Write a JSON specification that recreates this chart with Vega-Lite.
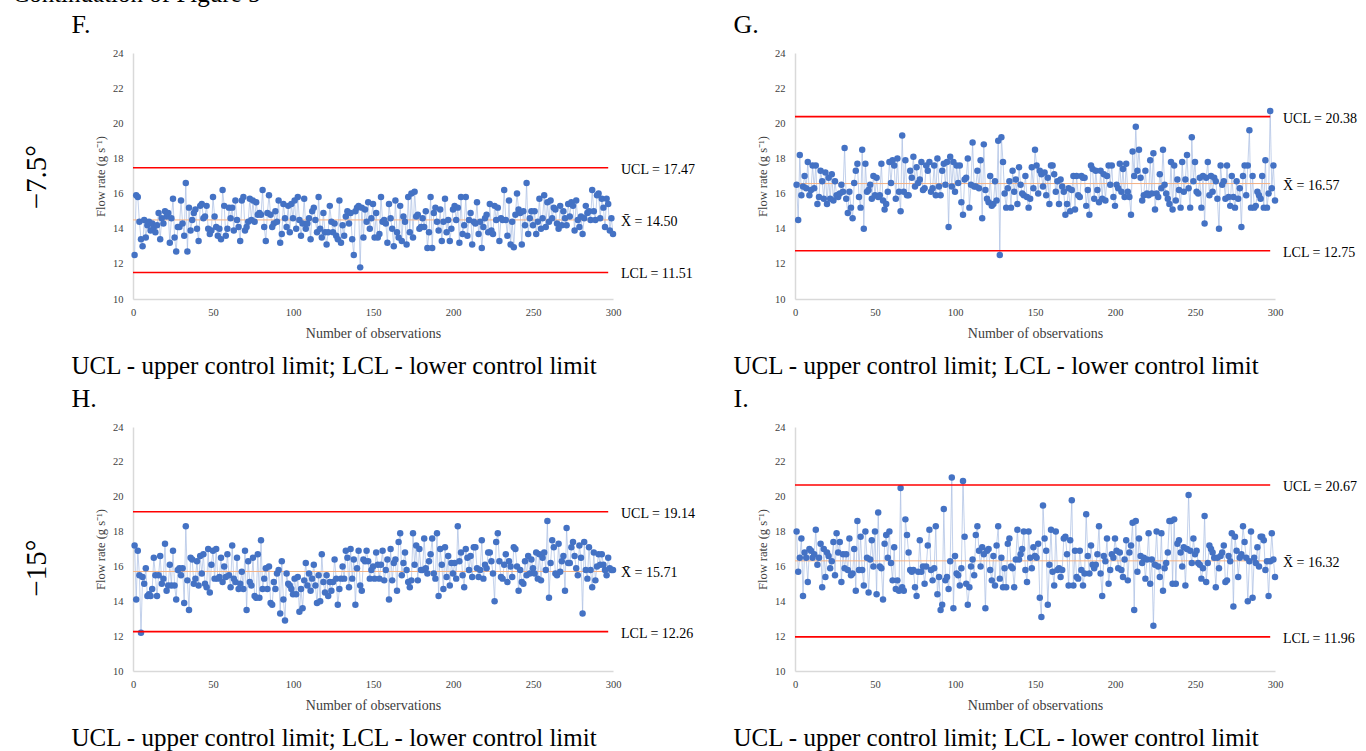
{
"$schema": "https://vega.github.io/schema/vega-lite/v6.json",
"background": "white",
"padding": {"left": 12, "top": -18, "right": 0, "bottom": 0},
"title": {"text": "Continuation of Figure 5", "anchor": "start", "fontSize": 25, "offset": 5, "dx": -10, "font": "Liberation Serif"},
"config": {
 "font": "Liberation Serif",
 "view": {"stroke": null},
 "axis": {"grid": false, "ticks": false, "tickSize": 0, "domainColor": "#d9d9d9", "domainWidth": 1.5, "labelFont": "Liberation Serif", "labelFontSize": 10.5, "labelColor": "#404040", "titleFont": "Liberation Serif", "titleFontWeight": "normal", "titleColor": "#404040", "labelFlush": false},
 "title": {"font": "Liberation Serif", "fontWeight": "normal", "color": "#000000"},
 "text": {"font": "Liberation Serif"}
},
"datasets": {
"F": [{"i":1,"v":12.5},{"i":2,"v":15.9},{"i":3,"v":15.8},{"i":4,"v":14.4},{"i":5,"v":13.4},{"i":6,"v":13.0},{"i":7,"v":14.5},{"i":8,"v":13.5},{"i":9,"v":14.2},{"i":10,"v":14.4},
{"i":11,"v":13.9},{"i":12,"v":14.3},{"i":13,"v":14.1},{"i":14,"v":13.8},{"i":15,"v":14.2},{"i":16,"v":14.9},{"i":17,"v":13.4},{"i":18,"v":14.6},{"i":19,"v":14.3},{"i":20,"v":15.0},
{"i":21,"v":14.7},{"i":22,"v":14.9},{"i":23,"v":13.2},{"i":24,"v":14.6},{"i":25,"v":15.7},{"i":26,"v":13.5},{"i":27,"v":12.7},{"i":28,"v":14.1},{"i":29,"v":14.1},{"i":30,"v":15.6},
{"i":31,"v":14.3},{"i":32,"v":13.6},{"i":33,"v":16.6},{"i":34,"v":12.7},{"i":35,"v":15.2},{"i":36,"v":13.9},{"i":37,"v":14.5},{"i":38,"v":14.9},{"i":39,"v":15.1},{"i":40,"v":14.0},
{"i":41,"v":13.3},{"i":42,"v":15.3},{"i":43,"v":15.4},{"i":44,"v":14.6},{"i":45,"v":14.7},{"i":46,"v":15.3},{"i":47,"v":14.0},{"i":48,"v":13.7},{"i":49,"v":13.9},{"i":50,"v":15.8},
{"i":51,"v":14.7},{"i":52,"v":14.1},{"i":53,"v":13.6},{"i":54,"v":14.0},{"i":55,"v":13.4},{"i":56,"v":16.2},{"i":57,"v":15.3},{"i":58,"v":13.6},{"i":59,"v":14.0},{"i":60,"v":15.2},
{"i":61,"v":14.6},{"i":62,"v":15.2},{"i":63,"v":13.9},{"i":64,"v":15.6},{"i":65,"v":14.5},{"i":66,"v":14.1},{"i":67,"v":13.3},{"i":68,"v":15.6},{"i":69,"v":15.8},{"i":70,"v":13.9},
{"i":71,"v":14.1},{"i":72,"v":14.4},{"i":73,"v":15.7},{"i":74,"v":14.5},{"i":75,"v":15.6},{"i":76,"v":14.4},{"i":77,"v":15.5},{"i":78,"v":14.8},{"i":79,"v":14.9},{"i":80,"v":14.8},
{"i":81,"v":16.2},{"i":82,"v":14.1},{"i":83,"v":13.3},{"i":84,"v":14.9},{"i":85,"v":15.9},{"i":86,"v":14.8},{"i":87,"v":14.1},{"i":88,"v":14.3},{"i":89,"v":15.0},{"i":90,"v":14.4},
{"i":91,"v":15.6},{"i":92,"v":13.2},{"i":93,"v":13.7},{"i":94,"v":15.4},{"i":95,"v":14.6},{"i":96,"v":14.1},{"i":97,"v":15.3},{"i":98,"v":13.8},{"i":99,"v":15.4},{"i":100,"v":14.6},
{"i":101,"v":15.6},{"i":102,"v":14.0},{"i":103,"v":15.8},{"i":104,"v":14.5},{"i":105,"v":13.6},{"i":106,"v":14.3},{"i":107,"v":15.7},{"i":108,"v":14.0},{"i":109,"v":14.3},{"i":110,"v":14.6},
{"i":111,"v":13.4},{"i":112,"v":15.0},{"i":113,"v":15.2},{"i":114,"v":14.5},{"i":115,"v":13.8},{"i":116,"v":15.8},{"i":117,"v":14.0},{"i":118,"v":13.5},{"i":119,"v":14.9},{"i":120,"v":13.8},
{"i":121,"v":13.1},{"i":122,"v":13.8},{"i":123,"v":15.3},{"i":124,"v":14.4},{"i":125,"v":13.8},{"i":126,"v":14.3},{"i":127,"v":13.6},{"i":128,"v":13.4},{"i":129,"v":15.6},{"i":130,"v":13.2},
{"i":131,"v":14.2},{"i":132,"v":13.6},{"i":133,"v":14.7},{"i":134,"v":15.0},{"i":135,"v":14.3},{"i":136,"v":14.9},{"i":137,"v":13.4},{"i":138,"v":12.5},{"i":139,"v":15.0},{"i":140,"v":15.2},
{"i":141,"v":15.3},{"i":142,"v":11.8},{"i":143,"v":15.2},{"i":144,"v":13.5},{"i":145,"v":15.1},{"i":146,"v":14.4},{"i":147,"v":15.5},{"i":148,"v":14.0},{"i":149,"v":14.6},{"i":150,"v":15.4},
{"i":151,"v":13.5},{"i":152,"v":14.9},{"i":153,"v":13.5},{"i":154,"v":13.7},{"i":155,"v":15.8},{"i":156,"v":14.4},{"i":157,"v":14.5},{"i":158,"v":14.3},{"i":159,"v":13.2},{"i":160,"v":15.4},
{"i":161,"v":14.6},{"i":162,"v":14.0},{"i":163,"v":13.0},{"i":164,"v":15.6},{"i":165,"v":13.8},{"i":166,"v":13.5},{"i":167,"v":15.3},{"i":168,"v":13.3},{"i":169,"v":14.7},{"i":170,"v":14.4},
{"i":171,"v":13.1},{"i":172,"v":15.8},{"i":173,"v":13.8},{"i":174,"v":16.0},{"i":175,"v":13.5},{"i":176,"v":16.1},{"i":177,"v":14.7},{"i":178,"v":14.8},{"i":179,"v":14.0},{"i":180,"v":14.1},
{"i":181,"v":14.6},{"i":182,"v":14.1},{"i":183,"v":15.0},{"i":184,"v":12.9},{"i":185,"v":13.8},{"i":186,"v":15.8},{"i":187,"v":12.9},{"i":188,"v":14.9},{"i":189,"v":15.2},{"i":190,"v":14.4},
{"i":191,"v":13.9},{"i":192,"v":15.1},{"i":193,"v":13.3},{"i":194,"v":14.4},{"i":195,"v":15.7},{"i":196,"v":13.8},{"i":197,"v":14.5},{"i":198,"v":13.3},{"i":199,"v":14.0},{"i":200,"v":15.1},
{"i":201,"v":15.3},{"i":202,"v":14.5},{"i":203,"v":15.2},{"i":204,"v":13.2},{"i":205,"v":15.8},{"i":206,"v":13.7},{"i":207,"v":14.2},{"i":208,"v":15.8},{"i":209,"v":13.6},{"i":210,"v":14.5},
{"i":211,"v":14.9},{"i":212,"v":13.1},{"i":213,"v":14.4},{"i":214,"v":14.3},{"i":215,"v":15.5},{"i":216,"v":13.7},{"i":217,"v":14.4},{"i":218,"v":12.9},{"i":219,"v":14.1},{"i":220,"v":14.6},
{"i":221,"v":14.8},{"i":222,"v":13.8},{"i":223,"v":15.4},{"i":224,"v":13.9},{"i":225,"v":13.7},{"i":226,"v":15.3},{"i":227,"v":14.5},{"i":228,"v":15.2},{"i":229,"v":13.3},{"i":230,"v":14.6},
{"i":231,"v":14.5},{"i":232,"v":16.2},{"i":233,"v":14.5},{"i":234,"v":13.6},{"i":235,"v":15.6},{"i":236,"v":13.1},{"i":237,"v":14.4},{"i":238,"v":12.95},{"i":239,"v":14.8},{"i":240,"v":16.0},
{"i":241,"v":15.1},{"i":242,"v":14.9},{"i":243,"v":13.1},{"i":244,"v":15.0},{"i":245,"v":14.2},{"i":246,"v":16.6},{"i":247,"v":13.7},{"i":248,"v":14.6},{"i":249,"v":15.0},{"i":250,"v":14.2},
{"i":251,"v":15.0},{"i":252,"v":13.7},{"i":253,"v":14.4},{"i":254,"v":15.7},{"i":255,"v":14.0},{"i":256,"v":14.6},{"i":257,"v":15.9},{"i":258,"v":14.1},{"i":259,"v":15.5},{"i":260,"v":14.4},
{"i":261,"v":15.6},{"i":262,"v":14.6},{"i":263,"v":15.2},{"i":264,"v":15.1},{"i":265,"v":14.3},{"i":266,"v":14.0},{"i":267,"v":15.3},{"i":268,"v":14.2},{"i":269,"v":15.0},{"i":270,"v":14.6},
{"i":271,"v":14.2},{"i":272,"v":15.4},{"i":273,"v":14.7},{"i":274,"v":15.5},{"i":275,"v":15.3},{"i":276,"v":13.9},{"i":277,"v":15.6},{"i":278,"v":14.5},{"i":279,"v":14.1},{"i":280,"v":14.7},
{"i":281,"v":13.7},{"i":282,"v":14.6},{"i":283,"v":15.3},{"i":284,"v":14.9},{"i":285,"v":15.0},{"i":286,"v":14.5},{"i":287,"v":16.2},{"i":288,"v":15.0},{"i":289,"v":14.5},{"i":290,"v":15.9},
{"i":291,"v":16.0},{"i":292,"v":14.6},{"i":293,"v":15.7},{"i":294,"v":15.2},{"i":295,"v":14.1},{"i":296,"v":15.7},{"i":297,"v":15.4},{"i":298,"v":13.9},{"i":299,"v":14.6},{"i":300,"v":13.7}],
"G": [{"i":1,"v":16.5},{"i":2,"v":14.5},{"i":3,"v":18.2},{"i":4,"v":15.9},{"i":5,"v":16.4},{"i":6,"v":17.0},{"i":7,"v":16.3},{"i":8,"v":17.8},{"i":9,"v":15.9},{"i":10,"v":16.2},
{"i":11,"v":17.6},{"i":12,"v":16.3},{"i":13,"v":17.6},{"i":14,"v":15.4},{"i":15,"v":15.8},{"i":16,"v":17.3},{"i":17,"v":16.7},{"i":18,"v":15.7},{"i":19,"v":17.2},{"i":20,"v":15.4},
{"i":21,"v":16.9},{"i":22,"v":15.7},{"i":23,"v":17.1},{"i":24,"v":15.6},{"i":25,"v":16.7},{"i":26,"v":15.9},{"i":27,"v":15.8},{"i":28,"v":16.0},{"i":29,"v":16.5},{"i":30,"v":16.1},
{"i":31,"v":18.6},{"i":32,"v":15.7},{"i":33,"v":14.9},{"i":34,"v":16.1},{"i":35,"v":15.2},{"i":36,"v":14.6},{"i":37,"v":16.6},{"i":38,"v":17.3},{"i":39,"v":17.7},{"i":40,"v":15.8},
{"i":41,"v":15.2},{"i":42,"v":18.5},{"i":43,"v":14.0},{"i":44,"v":17.7},{"i":45,"v":16.1},{"i":46,"v":16.2},{"i":47,"v":16.5},{"i":48,"v":15.7},{"i":49,"v":17.0},{"i":50,"v":15.9},
{"i":51,"v":16.9},{"i":52,"v":15.8},{"i":53,"v":15.9},{"i":54,"v":17.7},{"i":55,"v":15.6},{"i":56,"v":15.1},{"i":57,"v":15.4},{"i":58,"v":16.1},{"i":59,"v":17.8},{"i":60,"v":16.6},
{"i":61,"v":17.9},{"i":62,"v":17.6},{"i":63,"v":15.7},{"i":64,"v":18.0},{"i":65,"v":16.1},{"i":66,"v":15.0},{"i":67,"v":19.3},{"i":68,"v":16.1},{"i":69,"v":17.9},{"i":70,"v":15.9},
{"i":71,"v":15.9},{"i":72,"v":17.3},{"i":73,"v":16.9},{"i":74,"v":18.1},{"i":75,"v":16.4},{"i":76,"v":17.5},{"i":77,"v":16.6},{"i":78,"v":16.8},{"i":79,"v":17.8},{"i":80,"v":16.2},
{"i":81,"v":16.3},{"i":82,"v":17.6},{"i":83,"v":17.3},{"i":84,"v":17.8},{"i":85,"v":16.1},{"i":86,"v":16.3},{"i":87,"v":17.6},{"i":88,"v":15.9},{"i":89,"v":18.0},{"i":90,"v":16.4},
{"i":91,"v":15.9},{"i":92,"v":17.3},{"i":93,"v":17.7},{"i":94,"v":16.5},{"i":95,"v":17.8},{"i":96,"v":14.1},{"i":97,"v":18.1},{"i":98,"v":16.4},{"i":99,"v":17.8},{"i":100,"v":16.1},
{"i":101,"v":17.6},{"i":102,"v":16.6},{"i":103,"v":17.6},{"i":104,"v":15.5},{"i":105,"v":14.8},{"i":106,"v":16.8},{"i":107,"v":16.9},{"i":108,"v":18.0},{"i":109,"v":15.2},{"i":110,"v":16.5},
{"i":111,"v":18.9},{"i":112,"v":16.4},{"i":113,"v":16.4},{"i":114,"v":17.3},{"i":115,"v":16.3},{"i":116,"v":17.9},{"i":117,"v":14.6},{"i":118,"v":18.8},{"i":119,"v":16.2},{"i":120,"v":15.7},
{"i":121,"v":15.5},{"i":122,"v":17.0},{"i":123,"v":15.3},{"i":124,"v":15.4},{"i":125,"v":16.7},{"i":126,"v":15.6},{"i":127,"v":19.0},{"i":128,"v":12.5},{"i":129,"v":19.2},{"i":130,"v":17.8},
{"i":131,"v":16.0},{"i":132,"v":15.2},{"i":133,"v":16.3},{"i":134,"v":16.7},{"i":135,"v":15.2},{"i":136,"v":17.3},{"i":137,"v":16.1},{"i":138,"v":16.8},{"i":139,"v":15.4},{"i":140,"v":17.5},
{"i":141,"v":16.5},{"i":142,"v":16.0},{"i":143,"v":15.9},{"i":144,"v":17.0},{"i":145,"v":15.8},{"i":146,"v":15.2},{"i":147,"v":15.7},{"i":148,"v":17.5},{"i":149,"v":16.3},{"i":150,"v":18.5},
{"i":151,"v":17.6},{"i":152,"v":16.0},{"i":153,"v":17.3},{"i":154,"v":17.1},{"i":155,"v":16.4},{"i":156,"v":17.2},{"i":157,"v":15.9},{"i":158,"v":16.9},{"i":159,"v":15.4},{"i":160,"v":17.6},
{"i":161,"v":17.6},{"i":162,"v":17.1},{"i":163,"v":16.1},{"i":164,"v":16.7},{"i":165,"v":15.4},{"i":166,"v":16.8},{"i":167,"v":16.4},{"i":168,"v":16.1},{"i":169,"v":14.8},{"i":170,"v":15.4},
{"i":171,"v":16.3},{"i":172,"v":15.0},{"i":173,"v":16.2},{"i":174,"v":17.0},{"i":175,"v":15.1},{"i":176,"v":17.0},{"i":177,"v":15.9},{"i":178,"v":15.8},{"i":179,"v":17.0},{"i":180,"v":16.9},
{"i":181,"v":16.9},{"i":182,"v":15.3},{"i":183,"v":16.2},{"i":184,"v":14.8},{"i":185,"v":17.6},{"i":186,"v":17.4},{"i":187,"v":15.7},{"i":188,"v":17.3},{"i":189,"v":16.2},{"i":190,"v":15.5},
{"i":191,"v":17.3},{"i":192,"v":15.7},{"i":193,"v":17.1},{"i":194,"v":15.6},{"i":195,"v":17.0},{"i":196,"v":17.6},{"i":197,"v":16.5},{"i":198,"v":17.6},{"i":199,"v":15.8},{"i":200,"v":15.3},
{"i":201,"v":16.5},{"i":202,"v":16.3},{"i":203,"v":17.7},{"i":204,"v":16.1},{"i":205,"v":17.4},{"i":206,"v":15.8},{"i":207,"v":17.7},{"i":208,"v":16.1},{"i":209,"v":15.8},{"i":210,"v":14.8},
{"i":211,"v":18.4},{"i":212,"v":17.0},{"i":213,"v":19.8},{"i":214,"v":17.3},{"i":215,"v":18.5},{"i":216,"v":16.9},{"i":217,"v":15.6},{"i":218,"v":15.9},{"i":219,"v":17.3},{"i":220,"v":16.0},
{"i":221,"v":15.9},{"i":222,"v":17.9},{"i":223,"v":16.0},{"i":224,"v":18.3},{"i":225,"v":15.1},{"i":226,"v":16.0},{"i":227,"v":15.8},{"i":228,"v":17.1},{"i":229,"v":16.3},{"i":230,"v":18.5},
{"i":231,"v":16.5},{"i":232,"v":16.0},{"i":233,"v":15.7},{"i":234,"v":15.4},{"i":235,"v":17.8},{"i":236,"v":15.1},{"i":237,"v":17.6},{"i":238,"v":15.6},{"i":239,"v":16.8},{"i":240,"v":16.2},
{"i":241,"v":15.2},{"i":242,"v":17.8},{"i":243,"v":16.1},{"i":244,"v":16.8},{"i":245,"v":18.2},{"i":246,"v":16.3},{"i":247,"v":15.2},{"i":248,"v":19.2},{"i":249,"v":16.7},{"i":250,"v":17.8},
{"i":251,"v":16.1},{"i":252,"v":16.0},{"i":253,"v":16.9},{"i":254,"v":15.2},{"i":255,"v":17.0},{"i":256,"v":14.3},{"i":257,"v":16.9},{"i":258,"v":17.8},{"i":259,"v":15.9},{"i":260,"v":17.0},
{"i":261,"v":16.1},{"i":262,"v":16.9},{"i":263,"v":16.7},{"i":264,"v":15.7},{"i":265,"v":14.0},{"i":266,"v":17.6},{"i":267,"v":16.5},{"i":268,"v":16.7},{"i":269,"v":15.7},{"i":270,"v":17.6},
{"i":271,"v":15.8},{"i":272,"v":15.3},{"i":273,"v":17.0},{"i":274,"v":15.8},{"i":275,"v":15.2},{"i":276,"v":16.7},{"i":277,"v":15.7},{"i":278,"v":16.3},{"i":279,"v":14.1},{"i":280,"v":17.0},
{"i":281,"v":17.6},{"i":282,"v":15.9},{"i":283,"v":17.6},{"i":284,"v":19.6},{"i":285,"v":15.2},{"i":286,"v":17.0},{"i":287,"v":15.2},{"i":288,"v":15.3},{"i":289,"v":16.1},{"i":290,"v":15.9},
{"i":291,"v":15.7},{"i":292,"v":17.0},{"i":293,"v":15.2},{"i":294,"v":17.9},{"i":295,"v":15.2},{"i":296,"v":16.0},{"i":297,"v":20.7},{"i":298,"v":16.3},{"i":299,"v":17.6},{"i":300,"v":15.6}],
"H": [{"i":1,"v":17.2},{"i":2,"v":14.1},{"i":3,"v":16.9},{"i":4,"v":15.5},{"i":5,"v":12.2},{"i":6,"v":15.4},{"i":7,"v":15.0},{"i":8,"v":15.9},{"i":9,"v":14.3},{"i":10,"v":14.4},
{"i":11,"v":14.3},{"i":12,"v":14.7},{"i":13,"v":16.5},{"i":14,"v":15.5},{"i":15,"v":14.3},{"i":16,"v":15.5},{"i":17,"v":16.6},{"i":18,"v":15.0},{"i":19,"v":15.3},{"i":20,"v":17.3},
{"i":21,"v":14.6},{"i":22,"v":14.9},{"i":23,"v":16.1},{"i":24,"v":14.9},{"i":25,"v":16.9},{"i":26,"v":14.9},{"i":27,"v":14.1},{"i":28,"v":15.8},{"i":29,"v":15.9},{"i":30,"v":15.5},
{"i":31,"v":15.9},{"i":32,"v":13.9},{"i":33,"v":18.3},{"i":34,"v":15.2},{"i":35,"v":13.5},{"i":36,"v":16.5},{"i":37,"v":16.4},{"i":38,"v":15.0},{"i":39,"v":15.3},{"i":40,"v":16.3},
{"i":41,"v":14.9},{"i":42,"v":16.6},{"i":43,"v":15.6},{"i":44,"v":16.7},{"i":45,"v":15.0},{"i":46,"v":14.8},{"i":47,"v":17.0},{"i":48,"v":14.5},{"i":49,"v":16.1},{"i":50,"v":16.9},
{"i":51,"v":15.3},{"i":52,"v":17.0},{"i":53,"v":15.3},{"i":54,"v":15.4},{"i":55,"v":16.5},{"i":56,"v":15.1},{"i":57,"v":16.0},{"i":58,"v":15.4},{"i":59,"v":16.7},{"i":60,"v":15.5},
{"i":61,"v":14.8},{"i":62,"v":17.2},{"i":63,"v":15.3},{"i":64,"v":15.1},{"i":65,"v":16.5},{"i":66,"v":14.7},{"i":67,"v":15.0},{"i":68,"v":15.7},{"i":69,"v":14.7},{"i":70,"v":16.9},
{"i":71,"v":13.5},{"i":72,"v":16.3},{"i":73,"v":15.1},{"i":74,"v":14.9},{"i":75,"v":16.5},{"i":76,"v":14.3},{"i":77,"v":14.2},{"i":78,"v":16.7},{"i":79,"v":14.2},{"i":80,"v":17.5},
{"i":81,"v":14.7},{"i":82,"v":15.3},{"i":83,"v":15.9},{"i":84,"v":14.7},{"i":85,"v":16.0},{"i":86,"v":13.9},{"i":87,"v":13.8},{"i":88,"v":15.1},{"i":89,"v":14.7},{"i":90,"v":15.6},
{"i":91,"v":15.8},{"i":92,"v":13.3},{"i":93,"v":16.3},{"i":94,"v":14.1},{"i":95,"v":12.9},{"i":96,"v":15.6},{"i":97,"v":15.0},{"i":98,"v":14.9},{"i":99,"v":14.7},{"i":100,"v":14.4},
{"i":101,"v":15.3},{"i":102,"v":14.4},{"i":103,"v":15.4},{"i":104,"v":13.4},{"i":105,"v":14.7},{"i":106,"v":13.6},{"i":107,"v":15.2},{"i":108,"v":16.2},{"i":109,"v":14.9},{"i":110,"v":15.6},
{"i":111,"v":14.6},{"i":112,"v":15.3},{"i":113,"v":16.1},{"i":114,"v":14.9},{"i":115,"v":13.9},{"i":116,"v":15.5},{"i":117,"v":14.0},{"i":118,"v":16.7},{"i":119,"v":15.1},{"i":120,"v":14.5},
{"i":121,"v":15.5},{"i":122,"v":14.3},{"i":123,"v":15.1},{"i":124,"v":14.6},{"i":125,"v":15.1},{"i":126,"v":16.4},{"i":127,"v":15.3},{"i":128,"v":13.8},{"i":129,"v":14.7},{"i":130,"v":15.3},
{"i":131,"v":16.0},{"i":132,"v":15.3},{"i":133,"v":16.9},{"i":134,"v":16.5},{"i":135,"v":14.8},{"i":136,"v":17.0},{"i":137,"v":15.3},{"i":138,"v":16.4},{"i":139,"v":13.8},{"i":140,"v":15.9},
{"i":141,"v":16.9},{"i":142,"v":14.9},{"i":143,"v":14.6},{"i":144,"v":16.4},{"i":145,"v":16.3},{"i":146,"v":16.9},{"i":147,"v":16.3},{"i":148,"v":15.3},{"i":149,"v":15.8},{"i":150,"v":16.0},
{"i":151,"v":15.3},{"i":152,"v":16.8},{"i":153,"v":16.1},{"i":154,"v":15.3},{"i":155,"v":16.1},{"i":156,"v":16.9},{"i":157,"v":15.2},{"i":158,"v":15.8},{"i":159,"v":16.4},{"i":160,"v":14.1},
{"i":161,"v":17.0},{"i":162,"v":15.2},{"i":163,"v":16.2},{"i":164,"v":16.4},{"i":165,"v":14.6},{"i":166,"v":17.4},{"i":167,"v":17.9},{"i":168,"v":15.5},{"i":169,"v":16.2},{"i":170,"v":16.8},
{"i":171,"v":15.8},{"i":172,"v":15.1},{"i":173,"v":14.8},{"i":174,"v":15.2},{"i":175,"v":17.9},{"i":176,"v":16.1},{"i":177,"v":17.2},{"i":178,"v":15.2},{"i":179,"v":17.0},{"i":180,"v":15.8},
{"i":181,"v":15.8},{"i":182,"v":17.6},{"i":183,"v":15.9},{"i":184,"v":15.6},{"i":185,"v":16.3},{"i":186,"v":16.7},{"i":187,"v":17.6},{"i":188,"v":15.6},{"i":189,"v":15.3},{"i":190,"v":17.9},
{"i":191,"v":14.3},{"i":192,"v":17.0},{"i":193,"v":16.1},{"i":194,"v":14.7},{"i":195,"v":17.1},{"i":196,"v":15.4},{"i":197,"v":16.6},{"i":198,"v":14.9},{"i":199,"v":16.2},{"i":200,"v":15.6},
{"i":201,"v":16.2},{"i":202,"v":15.3},{"i":203,"v":18.3},{"i":204,"v":16.3},{"i":205,"v":16.8},{"i":206,"v":15.5},{"i":207,"v":14.8},{"i":208,"v":17.0},{"i":209,"v":16.5},{"i":210,"v":15.8},
{"i":211,"v":16.6},{"i":212,"v":15.4},{"i":213,"v":17.1},{"i":214,"v":17.1},{"i":215,"v":15.9},{"i":216,"v":15.4},{"i":217,"v":15.8},{"i":218,"v":17.5},{"i":219,"v":15.3},{"i":220,"v":16.1},
{"i":221,"v":15.9},{"i":222,"v":16.8},{"i":223,"v":16.8},{"i":224,"v":16.3},{"i":225,"v":15.6},{"i":226,"v":14.0},{"i":227,"v":17.4},{"i":228,"v":17.9},{"i":229,"v":16.3},{"i":230,"v":15.4},
{"i":231,"v":15.3},{"i":232,"v":16.1},{"i":233,"v":16.7},{"i":234,"v":15.1},{"i":235,"v":16.3},{"i":236,"v":16.0},{"i":237,"v":15.4},{"i":238,"v":17.1},{"i":239,"v":17.0},{"i":240,"v":16.0},
{"i":241,"v":14.6},{"i":242,"v":15.8},{"i":243,"v":15.1},{"i":244,"v":15.0},{"i":245,"v":16.3},{"i":246,"v":15.5},{"i":247,"v":16.6},{"i":248,"v":15.6},{"i":249,"v":16.4},{"i":250,"v":15.9},
{"i":251,"v":15.6},{"i":252,"v":16.8},{"i":253,"v":15.3},{"i":254,"v":16.7},{"i":255,"v":15.2},{"i":256,"v":16.5},{"i":257,"v":16.8},{"i":258,"v":15.8},{"i":259,"v":18.6},{"i":260,"v":14.2},
{"i":261,"v":16.2},{"i":262,"v":17.5},{"i":263,"v":17.1},{"i":264,"v":15.6},{"i":265,"v":15.5},{"i":266,"v":17.3},{"i":267,"v":15.7},{"i":268,"v":16.3},{"i":269,"v":16.6},{"i":270,"v":14.6},
{"i":271,"v":18.2},{"i":272,"v":16.2},{"i":273,"v":16.2},{"i":274,"v":17.1},{"i":275,"v":17.4},{"i":276,"v":16.6},{"i":277,"v":15.9},{"i":278,"v":15.5},{"i":279,"v":17.2},{"i":280,"v":16.5},
{"i":281,"v":13.3},{"i":282,"v":17.4},{"i":283,"v":15.8},{"i":284,"v":15.3},{"i":285,"v":17.1},{"i":286,"v":15.8},{"i":287,"v":14.8},{"i":288,"v":16.8},{"i":289,"v":15.2},{"i":290,"v":16.0},
{"i":291,"v":16.7},{"i":292,"v":16.1},{"i":293,"v":16.7},{"i":294,"v":16.1},{"i":295,"v":15.8},{"i":296,"v":15.5},{"i":297,"v":16.5},{"i":298,"v":15.9},{"i":299,"v":15.8},{"i":300,"v":15.8}],
"I": [{"i":1,"v":18.0},{"i":2,"v":15.7},{"i":3,"v":16.5},{"i":4,"v":17.6},{"i":5,"v":14.3},{"i":6,"v":16.8},{"i":7,"v":16.5},{"i":8,"v":15.1},{"i":9,"v":17.0},{"i":10,"v":16.9},
{"i":11,"v":16.5},{"i":12,"v":16.7},{"i":13,"v":18.1},{"i":14,"v":16.1},{"i":15,"v":16.5},{"i":16,"v":17.3},{"i":17,"v":14.8},{"i":18,"v":17.0},{"i":19,"v":15.4},{"i":20,"v":16.8},
{"i":21,"v":16.6},{"i":22,"v":15.9},{"i":23,"v":16.3},{"i":24,"v":17.4},{"i":25,"v":15.5},{"i":26,"v":17.9},{"i":27,"v":16.8},{"i":28,"v":17.4},{"i":29,"v":15.1},{"i":30,"v":16.7},
{"i":31,"v":15.9},{"i":32,"v":16.7},{"i":33,"v":15.8},{"i":34,"v":17.6},{"i":35,"v":15.5},{"i":36,"v":15.6},{"i":37,"v":17.0},{"i":38,"v":14.6},{"i":39,"v":18.6},{"i":40,"v":15.8},
{"i":41,"v":17.7},{"i":42,"v":15.8},{"i":43,"v":14.9},{"i":44,"v":18.0},{"i":45,"v":16.5},{"i":46,"v":14.5},{"i":47,"v":16.4},{"i":48,"v":17.5},{"i":49,"v":16.0},{"i":50,"v":18.0},
{"i":51,"v":14.4},{"i":52,"v":19.1},{"i":53,"v":16.0},{"i":54,"v":15.9},{"i":55,"v":14.1},{"i":56,"v":17.3},{"i":57,"v":17.8},{"i":58,"v":16.5},{"i":59,"v":18.0},{"i":60,"v":16.2},
{"i":61,"v":15.2},{"i":62,"v":17.1},{"i":63,"v":14.7},{"i":64,"v":15.2},{"i":65,"v":14.6},{"i":66,"v":20.5},{"i":67,"v":14.8},{"i":68,"v":14.6},{"i":69,"v":18.7},{"i":70,"v":17.8},
{"i":71,"v":16.8},{"i":72,"v":15.8},{"i":73,"v":15.7},{"i":74,"v":15.8},{"i":75,"v":14.8},{"i":76,"v":14.3},{"i":77,"v":15.7},{"i":78,"v":17.5},{"i":79,"v":15.7},{"i":80,"v":16.0},
{"i":81,"v":15.0},{"i":82,"v":16.0},{"i":83,"v":17.2},{"i":84,"v":18.1},{"i":85,"v":15.8},{"i":86,"v":15.2},{"i":87,"v":15.9},{"i":88,"v":18.3},{"i":89,"v":14.4},{"i":90,"v":15.4},
{"i":91,"v":13.5},{"i":92,"v":13.8},{"i":93,"v":19.3},{"i":94,"v":15.2},{"i":95,"v":15.4},{"i":96,"v":14.7},{"i":97,"v":16.3},{"i":98,"v":21.1},{"i":99,"v":13.6},{"i":100,"v":16.6},
{"i":101,"v":15.6},{"i":102,"v":15.5},{"i":103,"v":14.9},{"i":104,"v":15.9},{"i":105,"v":20.9},{"i":106,"v":17.7},{"i":107,"v":15.0},{"i":108,"v":13.8},{"i":109,"v":14.8},{"i":110,"v":16.0},
{"i":111,"v":16.4},{"i":112,"v":15.5},{"i":113,"v":17.8},{"i":114,"v":18.3},{"i":115,"v":16.9},{"i":116,"v":16.0},{"i":117,"v":17.1},{"i":118,"v":16.7},{"i":119,"v":13.6},{"i":120,"v":16.9},
{"i":121,"v":17.0},{"i":122,"v":15.8},{"i":123,"v":15.2},{"i":124,"v":16.6},{"i":125,"v":14.9},{"i":126,"v":17.2},{"i":127,"v":18.3},{"i":128,"v":15.3},{"i":129,"v":16.5},{"i":130,"v":14.8},
{"i":131,"v":15.9},{"i":132,"v":14.8},{"i":133,"v":17.3},{"i":134,"v":17.6},{"i":135,"v":16.0},{"i":136,"v":15.9},{"i":137,"v":14.8},{"i":138,"v":16.4},{"i":139,"v":18.1},{"i":140,"v":16.4},
{"i":141,"v":16.7},{"i":142,"v":17.0},{"i":143,"v":18.0},{"i":144,"v":15.8},{"i":145,"v":15.1},{"i":146,"v":18.0},{"i":147,"v":16.5},{"i":148,"v":15.9},{"i":149,"v":17.1},{"i":150,"v":16.6},
{"i":151,"v":16.5},{"i":152,"v":17.3},{"i":153,"v":14.2},{"i":154,"v":13.1},{"i":155,"v":19.5},{"i":156,"v":17.6},{"i":157,"v":16.9},{"i":158,"v":13.8},{"i":159,"v":16.1},{"i":160,"v":18.1},
{"i":161,"v":15.7},{"i":162,"v":14.9},{"i":163,"v":18.0},{"i":164,"v":15.8},{"i":165,"v":15.9},{"i":166,"v":15.4},{"i":167,"v":15.8},{"i":168,"v":17.6},{"i":169,"v":17.7},{"i":170,"v":16.7},
{"i":171,"v":14.9},{"i":172,"v":17.5},{"i":173,"v":19.8},{"i":174,"v":14.9},{"i":175,"v":16.9},{"i":176,"v":15.4},{"i":177,"v":15.3},{"i":178,"v":16.9},{"i":179,"v":15.8},{"i":180,"v":14.9},
{"i":181,"v":15.6},{"i":182,"v":19.0},{"i":183,"v":16.6},{"i":184,"v":15.6},{"i":185,"v":17.2},{"i":186,"v":16.1},{"i":187,"v":15.9},{"i":188,"v":16.1},{"i":189,"v":16.7},{"i":190,"v":18.3},
{"i":191,"v":15.6},{"i":192,"v":14.3},{"i":193,"v":16.6},{"i":194,"v":16.3},{"i":195,"v":17.6},{"i":196,"v":15.0},{"i":197,"v":15.8},{"i":198,"v":16.7},{"i":199,"v":16.5},{"i":200,"v":17.6},
{"i":201,"v":16.9},{"i":202,"v":15.9},{"i":203,"v":16.8},{"i":204,"v":15.8},{"i":205,"v":15.4},{"i":206,"v":16.4},{"i":207,"v":17.5},{"i":208,"v":15.2},{"i":209,"v":16.8},{"i":210,"v":17.2},
{"i":211,"v":18.5},{"i":212,"v":13.5},{"i":213,"v":18.6},{"i":214,"v":15.7},{"i":215,"v":17.6},{"i":216,"v":16.6},{"i":217,"v":16.2},{"i":218,"v":16.5},{"i":219,"v":15.3},{"i":220,"v":16.4},
{"i":221,"v":17.9},{"i":222,"v":15.0},{"i":223,"v":16.4},{"i":224,"v":12.6},{"i":225,"v":16.1},{"i":226,"v":18.0},{"i":227,"v":16.0},{"i":228,"v":15.4},{"i":229,"v":17.9},{"i":230,"v":14.6},
{"i":231,"v":15.9},{"i":232,"v":16.2},{"i":233,"v":16.8},{"i":234,"v":18.6},{"i":235,"v":18.6},{"i":236,"v":15.0},{"i":237,"v":18.7},{"i":238,"v":15.0},{"i":239,"v":17.3},{"i":240,"v":17.5},
{"i":241,"v":16.8},{"i":242,"v":16.0},{"i":243,"v":17.1},{"i":244,"v":14.9},{"i":245,"v":17.0},{"i":246,"v":20.1},{"i":247,"v":16.9},{"i":248,"v":16.2},{"i":249,"v":17.6},{"i":250,"v":16.7},
{"i":251,"v":16.9},{"i":252,"v":16.2},{"i":253,"v":16.1},{"i":254,"v":15.3},{"i":255,"v":15.9},{"i":256,"v":18.9},{"i":257,"v":15.1},{"i":258,"v":16.2},{"i":259,"v":17.2},{"i":260,"v":17.0},
{"i":261,"v":16.8},{"i":262,"v":16.5},{"i":263,"v":14.8},{"i":264,"v":16.5},{"i":265,"v":15.9},{"i":266,"v":16.6},{"i":267,"v":16.8},{"i":268,"v":17.2},{"i":269,"v":15.1},{"i":270,"v":15.2},
{"i":271,"v":16.6},{"i":272,"v":16.3},{"i":273,"v":17.9},{"i":274,"v":13.7},{"i":275,"v":17.7},{"i":276,"v":16.9},{"i":277,"v":15.4},{"i":278,"v":16.5},{"i":279,"v":16.7},{"i":280,"v":18.3},
{"i":281,"v":17.4},{"i":282,"v":16.5},{"i":283,"v":14.0},{"i":284,"v":16.3},{"i":285,"v":18.0},{"i":286,"v":14.2},{"i":287,"v":16.5},{"i":288,"v":16.2},{"i":289,"v":17.1},{"i":290,"v":16.0},
{"i":291,"v":17.7},{"i":292,"v":17.7},{"i":293,"v":17.5},{"i":294,"v":15.8},{"i":295,"v":16.3},{"i":296,"v":14.3},{"i":297,"v":16.3},{"i":298,"v":17.9},{"i":299,"v":16.4},{"i":300,"v":15.4}]
},
"vconcat": [
 {"title": {"text": "−7.5°", "orient": "left", "fontSize": 29, "anchor": "middle", "font": "Liberation Serif", "offset": 20, "dx": 18},
  "spacing": 37,
  "hconcat": [
   {"title": {"text": "F.", "anchor": "start", "fontSize": 26, "dx": 0, "offset": 10, "font": "Liberation Serif"},
    "vconcat": [{
     "width": 480, "height": 246,
     "title": {"text": "UCL - upper control limit; LCL - lower control limit", "orient": "bottom", "anchor": "start", "fontSize": 25, "dx": -23, "offset": 13, "font": "Liberation Serif"},
     "encoding": {"y": {"field": "v", "type": "quantitative", "scale": {"domain": [10, 24]}, "axis": {"values": [10,12,14,16,18,20,22,24], "title": "Flow rate (g s⁻¹)", "titleFontSize": 12.5, "labelPadding": 10, "titlePadding": 5, "labelFont": "Liberation Serif", "titleFont": "Liberation Serif"}}},
     "layer": [
      {"data": {"name": "F"}, "mark": {"type": "line", "color": "#A9BDE2", "strokeWidth": 0.7}, "encoding": {"x": {"field": "i", "type": "quantitative", "scale": {"domain": [0, 300]}, "axis": {"values": [0,50,100,150,200,250,300], "title": "Number of observations", "titleFontSize": 14, "labelPadding": 8, "titlePadding": 9, "labelFlush": false, "labelFont": "Liberation Serif", "titleFont": "Liberation Serif"}}}},
      {"data": {"values": [{"v": 14.5}]}, "mark": {"type": "rule", "color": "#F4B183", "strokeWidth": 1}, "encoding": {"x": {"datum": 0, "type": "quantitative"}, "x2": {"datum": 297}}},
      {"data": {"name": "F"}, "mark": {"type": "circle", "color": "#4472C4", "size": 42, "opacity": 1}, "encoding": {"x": {"field": "i", "type": "quantitative"}}},
      {"data": {"values": [{"v": 17.47}, {"v": 11.51}]}, "mark": {"type": "rule", "color": "#FF0000", "strokeWidth": 1.6}, "encoding": {"x": {"datum": 0, "type": "quantitative"}, "x2": {"datum": 297}}},
      {"data": {"values": [{"v": 17.47, "t": "UCL = 17.47"}, {"v": 14.5, "t": "X̄ = 14.50"}, {"v": 11.51, "t": "LCL = 11.51"}]}, "mark": {"type": "text", "align": "left", "baseline": "middle", "dx": 8, "dy": 2, "fontSize": 14, "color": "#000000", "font": "Liberation Serif"}, "encoding": {"x": {"datum": 300, "type": "quantitative"}, "text": {"field": "t"}}}
     ]
    }]
   },
   {"title": {"text": "G.", "anchor": "start", "fontSize": 26, "dx": 0, "offset": 10, "font": "Liberation Serif"},
    "vconcat": [{
     "width": 480, "height": 246,
     "title": {"text": "UCL - upper control limit; LCL - lower control limit", "orient": "bottom", "anchor": "start", "fontSize": 25, "dx": -23, "offset": 13, "font": "Liberation Serif"},
     "encoding": {"y": {"field": "v", "type": "quantitative", "scale": {"domain": [10, 24]}, "axis": {"values": [10,12,14,16,18,20,22,24], "title": "Flow rate (g s⁻¹)", "titleFontSize": 12.5, "labelPadding": 10, "titlePadding": 5, "labelFont": "Liberation Serif", "titleFont": "Liberation Serif"}}},
     "layer": [
      {"data": {"name": "G"}, "mark": {"type": "line", "color": "#A9BDE2", "strokeWidth": 0.7}, "encoding": {"x": {"field": "i", "type": "quantitative", "scale": {"domain": [0, 300]}, "axis": {"values": [0,50,100,150,200,250,300], "title": "Number of observations", "titleFontSize": 14, "labelPadding": 8, "titlePadding": 9, "labelFlush": false, "labelFont": "Liberation Serif", "titleFont": "Liberation Serif"}}}},
      {"data": {"values": [{"v": 16.57}]}, "mark": {"type": "rule", "color": "#F4B183", "strokeWidth": 1}, "encoding": {"x": {"datum": 0, "type": "quantitative"}, "x2": {"datum": 297}}},
      {"data": {"name": "G"}, "mark": {"type": "circle", "color": "#4472C4", "size": 42, "opacity": 1}, "encoding": {"x": {"field": "i", "type": "quantitative"}}},
      {"data": {"values": [{"v": 20.38}, {"v": 12.75}]}, "mark": {"type": "rule", "color": "#FF0000", "strokeWidth": 1.6}, "encoding": {"x": {"datum": 0, "type": "quantitative"}, "x2": {"datum": 297}}},
      {"data": {"values": [{"v": 20.38, "t": "UCL = 20.38"}, {"v": 16.57, "t": "X̄ = 16.57"}, {"v": 12.75, "t": "LCL = 12.75"}]}, "mark": {"type": "text", "align": "left", "baseline": "middle", "dx": 8, "dy": 2, "fontSize": 14, "color": "#000000", "font": "Liberation Serif"}, "encoding": {"x": {"datum": 300, "type": "quantitative"}, "text": {"field": "t"}}}
     ]
    }]
   }
  ]
 },
 {"title": {"text": "−15°", "orient": "left", "fontSize": 29, "anchor": "middle", "font": "Liberation Serif", "offset": 20, "dx": 0},
  "spacing": 37,
  "hconcat": [
   {"title": {"text": "H.", "anchor": "start", "fontSize": 26, "dx": 0, "offset": 10, "font": "Liberation Serif"},
    "vconcat": [{
     "width": 480, "height": 244,
     "title": {"text": "UCL - upper control limit; LCL - lower control limit", "orient": "bottom", "anchor": "start", "fontSize": 25, "dx": -23, "offset": 13, "font": "Liberation Serif"},
     "encoding": {"y": {"field": "v", "type": "quantitative", "scale": {"domain": [10, 24]}, "axis": {"values": [10,12,14,16,18,20,22,24], "title": "Flow rate (g s⁻¹)", "titleFontSize": 12.5, "labelPadding": 10, "titlePadding": 5, "labelFont": "Liberation Serif", "titleFont": "Liberation Serif"}}},
     "layer": [
      {"data": {"name": "H"}, "mark": {"type": "line", "color": "#A9BDE2", "strokeWidth": 0.7}, "encoding": {"x": {"field": "i", "type": "quantitative", "scale": {"domain": [0, 300]}, "axis": {"values": [0,50,100,150,200,250,300], "title": "Number of observations", "titleFontSize": 14, "labelPadding": 8, "titlePadding": 9, "labelFlush": false, "labelFont": "Liberation Serif", "titleFont": "Liberation Serif"}}}},
      {"data": {"values": [{"v": 15.71}]}, "mark": {"type": "rule", "color": "#F4B183", "strokeWidth": 1}, "encoding": {"x": {"datum": 0, "type": "quantitative"}, "x2": {"datum": 297}}},
      {"data": {"name": "H"}, "mark": {"type": "circle", "color": "#4472C4", "size": 42, "opacity": 1}, "encoding": {"x": {"field": "i", "type": "quantitative"}}},
      {"data": {"values": [{"v": 19.14}, {"v": 12.26}]}, "mark": {"type": "rule", "color": "#FF0000", "strokeWidth": 1.6}, "encoding": {"x": {"datum": 0, "type": "quantitative"}, "x2": {"datum": 297}}},
      {"data": {"values": [{"v": 19.14, "t": "UCL = 19.14"}, {"v": 15.71, "t": "X̄ = 15.71"}, {"v": 12.26, "t": "LCL = 12.26"}]}, "mark": {"type": "text", "align": "left", "baseline": "middle", "dx": 8, "dy": 2, "fontSize": 14, "color": "#000000", "font": "Liberation Serif"}, "encoding": {"x": {"datum": 300, "type": "quantitative"}, "text": {"field": "t"}}}
     ]
    }]
   },
   {"title": {"text": "I.", "anchor": "start", "fontSize": 26, "dx": 0, "offset": 10, "font": "Liberation Serif"},
    "vconcat": [{
     "width": 480, "height": 244,
     "title": {"text": "UCL - upper control limit; LCL - lower control limit", "orient": "bottom", "anchor": "start", "fontSize": 25, "dx": -23, "offset": 13, "font": "Liberation Serif"},
     "encoding": {"y": {"field": "v", "type": "quantitative", "scale": {"domain": [10, 24]}, "axis": {"values": [10,12,14,16,18,20,22,24], "title": "Flow rate (g s⁻¹)", "titleFontSize": 12.5, "labelPadding": 10, "titlePadding": 5, "labelFont": "Liberation Serif", "titleFont": "Liberation Serif"}}},
     "layer": [
      {"data": {"name": "I"}, "mark": {"type": "line", "color": "#A9BDE2", "strokeWidth": 0.7}, "encoding": {"x": {"field": "i", "type": "quantitative", "scale": {"domain": [0, 300]}, "axis": {"values": [0,50,100,150,200,250,300], "title": "Number of observations", "titleFontSize": 14, "labelPadding": 8, "titlePadding": 9, "labelFlush": false, "labelFont": "Liberation Serif", "titleFont": "Liberation Serif"}}}},
      {"data": {"values": [{"v": 16.32}]}, "mark": {"type": "rule", "color": "#F4B183", "strokeWidth": 1}, "encoding": {"x": {"datum": 0, "type": "quantitative"}, "x2": {"datum": 297}}},
      {"data": {"name": "I"}, "mark": {"type": "circle", "color": "#4472C4", "size": 42, "opacity": 1}, "encoding": {"x": {"field": "i", "type": "quantitative"}}},
      {"data": {"values": [{"v": 20.67}, {"v": 11.96}]}, "mark": {"type": "rule", "color": "#FF0000", "strokeWidth": 1.6}, "encoding": {"x": {"datum": 0, "type": "quantitative"}, "x2": {"datum": 297}}},
      {"data": {"values": [{"v": 20.67, "t": "UCL = 20.67"}, {"v": 16.32, "t": "X̄ = 16.32"}, {"v": 11.96, "t": "LCL = 11.96"}]}, "mark": {"type": "text", "align": "left", "baseline": "middle", "dx": 8, "dy": 2, "fontSize": 14, "color": "#000000", "font": "Liberation Serif"}, "encoding": {"x": {"datum": 300, "type": "quantitative"}, "text": {"field": "t"}}}
     ]
    }]
   }
  ]
 }
],
"spacing": 7
}
